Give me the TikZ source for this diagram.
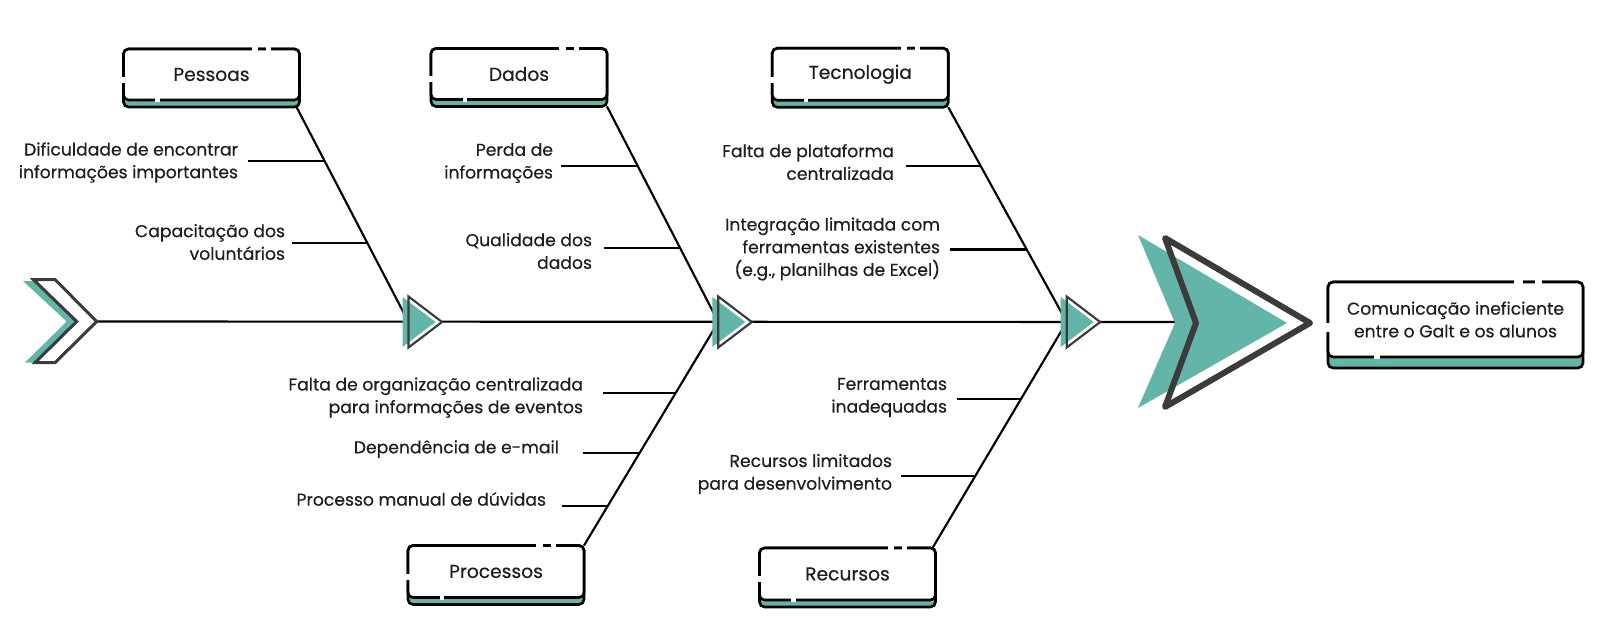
\documentclass[tikz,border=0pt]{standalone}
\usepackage{fontspec}
\setmainfont{Poppins}[FakeBold=0.45]
\usepackage{tikz}
\usetikzlibrary{calc, positioning}

\definecolor{verde}{HTML}{63B5A7}
\definecolor{cinza}{HTML}{3B3B3B}
\definecolor{texto}{HTML}{1E1E1E}
\newcommand{\fonterotulo}{\fontsize{12.9}{17}\selectfont}
\newcommand{\fontetitulo}{\fontsize{14}{17}\selectfont}

\tikzset{
    caixa/.style={draw=black, line width=2pt, rounded corners=3.75pt, inner sep=0pt, outer sep=0pt, text=texto},
    rotulo/.style={align=right, inner sep=0pt, outer xsep=7.5pt, outer ysep=0pt, text=texto, font=\fonterotulo, anchor=east},
    espinha/.style={line width=1.6pt, black},
    falha/.style={fill=white, draw=none}
}

% caixa de categoria: [opcoes] nome, centro, largura, altura, faixa (px)
\newcommand{\categoria}[7][]{%
    \node[caixa, fill=verde, minimum width=#4*0.75pt, minimum height=#5*0.75pt] (#2) at (#3) {};
    \node[caixa, fill=white, anchor=north, minimum width=#4*0.75pt, minimum height={(#5-#6)*0.75pt}, font=\fontetitulo, align=center, #1] (#2-t) at (#2.north) {#7};
    \fill[falha] ($(#2.north west)!0.73!(#2.north east)+(0,-2)$) rectangle ($(#2.north west)!0.765!(#2.north east)+(0,2)$);
    \fill[falha] ($(#2.north west)!0.81!(#2.north east)+(0,-2)$) rectangle ($(#2.north west)!0.84!(#2.north east)+(0,2)$);
    \fill[falha] ($(#2.north west)!0.48!(#2.south west)+(-2,0)$) rectangle ($(#2.north west)!0.58!(#2.south west)+(2,0)$);
    \fill[falha] ($(#2-t.south west)!0.18!(#2-t.south east)+(0,-2)$) rectangle ($(#2-t.south west)!0.205!(#2-t.south east)+(0,2)$);
}

% marcador triangular sobre a espinha
\newcommand{\marcador}[1]{%
    \fill[white] ($(#1)+(0,-25.5)$) -- ($(#1)+(33.5,0)$) -- ($(#1)+(0,25.5)$) -- cycle;
    \fill[verde] ($(#1)+(-6,-25)$) -- ($(#1)+(27,0)$) -- ($(#1)+(-6,25)$) -- cycle;
    \draw[cinza, line width=1.6pt] ($(#1)+(0,-25.5)$) -- ($(#1)+(33.5,0)$) -- ($(#1)+(0,25.5)$) -- cycle;
}

\begin{document}
\begin{tikzpicture}[x=0.75pt, y=-0.75pt]
    \useasboundingbox (0,0) rectangle (1600,636);

    % pontos da espinha
    \coordinate (inicio) at (96.7,321.5);
    \coordinate (seta) at (1176,322);
    \coordinate (m1) at (408.5,322);
    \coordinate (m2) at (718.3,322);
    \coordinate (m3) at (1066.7,322);

    % categorias
    \categoria{pessoas}{211.5,78}{176}{58}{7}{Pessoas}
    \categoria{dados}{519,77.5}{176}{58}{7}{Dados}
    \categoria{tecnologia}{860.3,77.8}{176}{59}{7}{Tecnologia}
    \categoria{processos}{496,575}{176}{59}{7}{Processos}
    \categoria{recursos}{847.5,577.5}{176}{59}{7}{Recursos}
    \categoria[font=\fonterotulo]{efeito}{1455.5,325}{255}{86}{11}{Comunicação ineficiente\\entre o Galt e os alunos}

    % espinha principal
    \draw[espinha] (inicio) -- (seta);

    % espinhas diagonais
    \draw[espinha] ([xshift=-2.25pt]pessoas.south east) -- coordinate[pos=0.25] (pes1) coordinate[pos=0.634] (pes2) (m1);
    \draw[espinha] (dados.south east) -- coordinate[pos=0.275] (dad1) coordinate[pos=0.658] (dad2) (m2);
    \draw[espinha] (tecnologia.south east) -- coordinate[pos=0.273] (tec1) coordinate[pos=0.662] (tec2) (m3);
    \draw[espinha] (processos.north east) -- coordinate[pos=0.176] (pro3) coordinate[pos=0.413] (pro2) coordinate[pos=0.683] (pro1) (m2);
    \draw[espinha] ([xshift=-2.25pt]recursos.north east) -- coordinate[pos=0.32] (rec2) coordinate[pos=0.658] (rec1) (m3);

    % causas
    \node[rotulo] (pes-a) at (248,162.5) {Dificuldade de encontrar\\informações importantes};
    \node[rotulo, outer xsep=5.25pt] (pes-b) at (292,242) {Capacitação dos\\voluntários};
    \node[rotulo, outer xsep=6pt] (dad-a) at (561,163) {Perda de\\informações};
    \node[rotulo, outer xsep=9pt] (dad-b) at (604,251) {Qualidade dos\\dados};
    \node[rotulo, outer xsep=9pt] (tec-a) at (906,162) {Falta de plataforma\\centralizada};
    \node[rotulo] (tec-b) at (950,249) {Integração limitada com\\ferramentas existentes\\(e.g., planilhas de Excel)};
    \node[rotulo, outer xsep=15pt] (pro-a) at (603,397.5) {Falta de organização centralizada\\para informações de eventos};
    \node[rotulo, outer xsep=18pt] (pro-b) at (583,449) {Dependência de e-mail};
    \node[rotulo, outer xsep=12pt] (pro-c) at (562,499) {Processo manual de dúvidas};
    \node[rotulo] (rec-a) at (957,397.5) {Ferramentas\\inadequadas};
    \node[rotulo, outer xsep=6.75pt] (rec-b) at (901,474) {Recursos limitados\\para desenvolvimento};

    \draw[espinha] (pes1) -- (pes1 -| pes-a.east);
    \draw[espinha] (pes2) -- (pes2 -| pes-b.east);
    \draw[espinha] (dad1) -- (dad1 -| dad-a.east);
    \draw[espinha] (dad2) -- (dad2 -| dad-b.east);
    \draw[espinha] (tec1) -- (tec1 -| tec-a.east);
    \draw[espinha] (tec2) -- (tec2 -| tec-b.east);
    \draw[espinha] (pro1) -- (pro1 -| pro-a.east);
    \draw[espinha] (pro2) -- (pro2 -| pro-b.east);
    \draw[espinha] (pro3) -- (pro3 -| pro-c.east);
    \draw[espinha] (rec1) -- (rec1 -| rec-a.east);
    \draw[espinha] (rec2) -- (rec2 -| rec-b.east);

    % marcadores
    \marcador{m1}
    \marcador{m2}
    \marcador{m3}

    % seta do efeito
    \fill[verde] (1138,235) -- (1287,323) -- (1138,408) -- (1175,323) -- cycle;
    \draw[cinza, line width=4.5pt, line join=round] (1165,238) -- (1310,323) -- (1165,407) -- (1196,323) -- cycle;

    % chevron inicial
    \fill[verde] (23,281) -- (45,281) -- (87,321.5) -- (45,362.5) -- (25,362.5) -- (66.7,321.5) -- cycle;
    \draw[cinza, line width=2.25pt, fill=white] (33.3,279.5) -- (55,279.5) -- (96.7,321.5) -- (55,362.7) -- (35,362.7) -- (76.7,321.5) -- cycle;
\end{tikzpicture}
\end{document}
